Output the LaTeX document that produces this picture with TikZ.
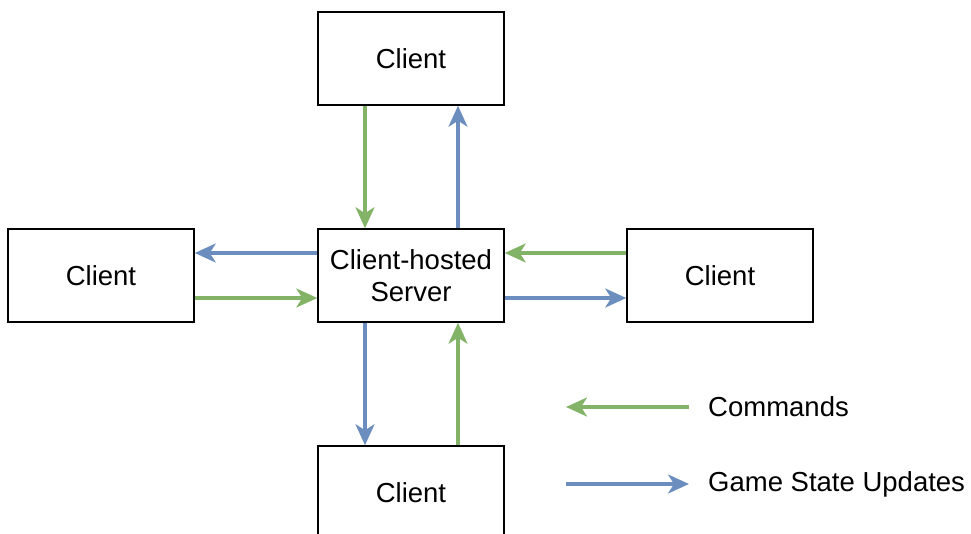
\documentclass[tikz,border=0pt]{standalone}
\usepackage{fontspec}
\setmainfont{Liberation Sans}
\usetikzlibrary{arrows.meta}
\definecolor{cmdgreen}{HTML}{82B366}
\definecolor{updblue}{HTML}{6C8EBF}
\tikzset{
  box/.style={draw=black, line width=1.5pt, fill=white, minimum width=186pt, minimum height=93pt,
    inner sep=0pt, align=center, font=\fontsize{27.5}{32}\selectfont},
  flow/.style={line width=3.2pt, -{Stealth[length=21pt, width=19pt, inset=6pt]}},
  cmd/.style={flow, draw=cmdgreen},
  upd/.style={flow, draw=updblue},
  legendtext/.style={anchor=west, inner sep=0pt, font=\fontsize{27.5}{32}\selectfont}
}
\begin{document}
\begin{tikzpicture}[x=1pt, y=-1pt]
  \useasboundingbox (0,0) rectangle (971,534);
  \clip (0,0) rectangle (971,534);

  % the five peers
  \node[box] (top)    at (411,58.5)  {Client};
  \node[box] (left)   at (101,275.5) {Client};
  \node[box] (server) at (411,275.5) {Client-hosted\\Server};
  \node[box] (right)  at (720,275.5) {Client};
  \node[box] (bottom) at (411,492.5) {Client};

  % top client
  \draw[cmd] (top.south -| 365,0) -- (server.north -| 365,0);
  \draw[upd] (server.north -| 458,0) -- (top.south -| 458,0);
  % left client
  \draw[upd] (server.west |- 0,253) -- (left.east |- 0,253);
  \draw[cmd] (left.east |- 0,298) -- (server.west |- 0,298);
  % right client
  \draw[cmd] (right.west |- 0,253) -- (server.east |- 0,253);
  \draw[upd] (server.east |- 0,298) -- (right.west |- 0,298);
  % bottom client
  \draw[upd] (server.south -| 365,0) -- (bottom.north -| 365,0);
  \draw[cmd] (bottom.north -| 458,0) -- (server.south -| 458,0);

  % legend
  \coordinate (c1) at (689,407);
  \coordinate (c0) at (566,407);
  \coordinate (u0) at (566,484);
  \coordinate (u1) at (689,484);
  \draw[cmd] (c1) -- (c0);
  \draw[upd] (u0) -- (u1);
  \node[legendtext] (lc) at (708,407) {Commands};
  \node[legendtext] (lu) at (708,484) {Game State Updates};
\end{tikzpicture}
\end{document}
